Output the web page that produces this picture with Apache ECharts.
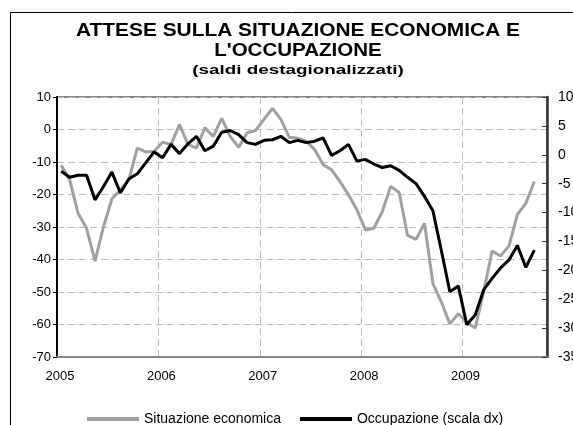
<!DOCTYPE html>
<html><head><meta charset="utf-8">
<script src="https://cdn.jsdelivr.net/npm/echarts@6/dist/echarts.min.js"></script>
<style>html,body{margin:0;padding:0;background:#fff}#c{width:573px;height:425px}</style>
</head><body><div id="c"></div>
<script>
// Tick labels of the time axis (one per January)
const yearLabels = ['2005', '2006', '2007', '2008', '2009'];
// Axis spans Jan 2005 .. Oct 2009 (58 months); data Jan 2005 .. Sep 2009
const monthsOnAxis = 58;

// Situazione economica (left axis)
const situazioneEconomica = [
  -11.0, -15.5, -25.8, -30.4, -40.5, -30.0, -21.3, -18.6, -15.5, -5.7, -6.9, -6.7,
  -3.9, -4.6, 1.5, -4.6, -5.7, 0.5, -2.1, 3.4, -2.1, -5.5, -1.0, -0.3,
  3.1, 6.5, 3.1, -2.4, -2.7, -3.6, -6.2, -10.8, -12.4, -16.0, -20.1, -24.7,
  -30.9, -30.4, -25.3, -17.5, -19.4, -32.6, -33.8, -28.9, -47.4, -53.1, -59.8, -56.7,
  -59.3, -61.1, -50.0, -37.4, -38.9, -35.8, -26.1, -22.7, -16.0
];
// Occupazione (right axis, scala dx)
const occupazione = [
  -2.85, -3.9, -3.55, -3.55, -7.8, -5.5, -3.0, -6.6, -4.2, -3.3, -1.4, 0.5,
  -0.5, 1.8, 0.2, 1.9, 3.2, 0.7, 1.5, 3.9, 4.2, 3.5, 2.1, 1.8,
  2.5, 2.6, 3.2, 2.1, 2.5, 2.1, 2.35, 2.9, -0.1, 0.7, 1.8, -1.1,
  -0.8, -1.6, -2.2, -1.9, -2.7, -3.9, -5.0, -7.2, -9.7, -16.6, -23.7, -22.7,
  -29.4, -27.75, -23.4, -21.4, -19.6, -18.2, -15.7, -19.5, -16.5
];

const FONT = '"Liberation Sans", Arial, sans-serif';
const chart = echarts.init(document.getElementById('c'), null, {renderer: 'canvas'});
const toPts = arr => arr.map((v, i) => [i + 0.5, v]);

chart.setOption({
  animation: false,
  backgroundColor: '#fff',
  graphic: [
    {type: 'rect', z: -10, shape: {x: 10.5, y: 12.5, width: 700, height: 500},
     style: {fill: 'none', stroke: '#000', lineWidth: 1}},
    {type: 'text', x: 298, y: 31, scaleX: 1.16,
     style: {text: 'ATTESE SULLA SITUAZIONE ECONOMICA E', font: 'bold 18px ' + FONT, fill: '#000',
             align: 'center', verticalAlign: 'middle', textAlign: 'center', textVerticalAlign: 'middle'}},
    {type: 'text', x: 298, y: 51.5, scaleX: 1.14,
     style: {text: "L'OCCUPAZIONE", font: 'bold 18px ' + FONT, fill: '#000',
             align: 'center', verticalAlign: 'middle', textAlign: 'center', textVerticalAlign: 'middle'}},
    {type: 'text', x: 298, y: 70, scaleX: 1.45,
     style: {text: '(saldi destagionalizzati)', font: 'bold 13px ' + FONT, fill: '#000',
             align: 'center', verticalAlign: 'middle', textAlign: 'center', textVerticalAlign: 'middle'}}
  ],
  grid: {left: 57, right: 26, top: 97, bottom: 68, show: true, borderColor: '#888', borderWidth: 2,
         backgroundColor: 'transparent', containLabel: false, outerBoundsMode: 'none'},
  legend: {
    left: 82, top: 407, itemWidth: 52, itemHeight: 4, itemGap: 19, icon: 'rect',
    textStyle: {fontSize: 14, color: '#000', fontFamily: FONT},
    data: ['Situazione economica', 'Occupazione (scala dx)']
  },
  xAxis: {
    type: 'value', min: 0, max: monthsOnAxis, interval: 12,
    axisLine: {show: true, onZero: false, lineStyle: {color: '#888', width: 2}},
    axisTick: {show: false},
    axisLabel: {fontSize: 13, color: '#000', fontFamily: FONT, margin: 13, padding: [0, 0, 0, 6],
                formatter: v => (v % 12 === 0 && yearLabels[v / 12]) ? yearLabels[v / 12] : ''},
    splitLine: {show: true, lineStyle: {color: '#bdbdbd', width: 1, type: [7, 4]}}
  },
  yAxis: [
    {type: 'value', min: -70, max: 10, interval: 10, position: 'left',
     axisLine: {show: true, onZero: false, lineStyle: {color: '#000', width: 2}},
     axisTick: {show: true, length: 4, lineStyle: {color: '#000', width: 1}},
     axisLabel: {fontSize: 13, color: '#000', fontFamily: FONT, margin: 6},
     splitLine: {show: true, lineStyle: {color: '#bdbdbd', width: 1, type: [7, 4]}}},
    {type: 'value', min: -35, max: 10, interval: 5, position: 'right',
     axisLine: {show: true, onZero: false, lineStyle: {color: '#333', width: 2.5}},
     axisTick: {show: true, inside: true, length: 5, lineStyle: {color: '#333', width: 1}},
     axisLabel: {fontSize: 14, color: '#000', fontFamily: FONT, margin: 11},
     splitLine: {show: false}}
  ],
  series: [
    {name: 'Situazione economica', type: 'line', yAxisIndex: 0, data: toPts(situazioneEconomica),
     symbol: 'none', lineStyle: {color: '#a0a0a0', width: 3}, itemStyle: {color: '#a0a0a0'}},
    {name: 'Occupazione (scala dx)', type: 'line', yAxisIndex: 1, data: toPts(occupazione),
     symbol: 'none', lineStyle: {color: '#000', width: 3}, itemStyle: {color: '#000'}}
  ]
});
</script></body></html>
